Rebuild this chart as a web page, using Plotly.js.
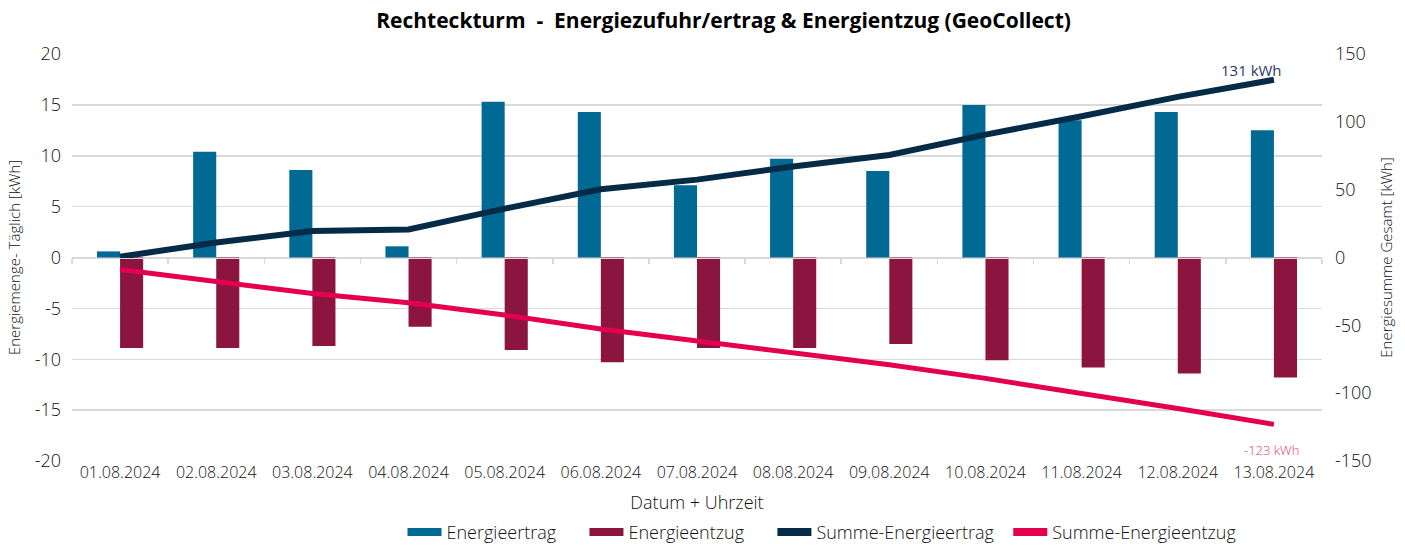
<!DOCTYPE html>
<html>
<head>
<meta charset="utf-8">
<script src="https://cdn.plot.ly/plotly-3.0.1.min.js"></script>
<style>html,body{margin:0;padding:0;background:#fff;}#chart{width:1405px;height:546px;}</style>
</head>
<body>
<div id="chart"></div>
<script>
var dates = ["01.08.2024","02.08.2024","03.08.2024","04.08.2024","05.08.2024","06.08.2024","07.08.2024","08.08.2024","09.08.2024","10.08.2024","11.08.2024","12.08.2024","13.08.2024"];
var energieertrag = [0.6, 10.4, 8.6, 1.1, 15.3, 14.3, 7.1, 9.7, 8.5, 15.0, 13.5, 14.3, 12.5];
var energieentzug = [-8.9, -8.9, -8.7, -6.8, -9.1, -10.3, -8.9, -8.9, -8.5, -10.1, -10.8, -11.4, -11.8];
var summeErtrag = [0.6, 11.0, 19.6, 20.7, 36.0, 50.3, 57.4, 67.1, 75.6, 90.6, 104.1, 118.4, 131];
var summeEntzug = [-8.9, -17.8, -26.5, -33.3, -42.4, -52.7, -61.6, -70.5, -79.0, -89.1, -99.9, -111.3, -123];
var leftTicks = [-20, -15, -10, -5, 0, 5, 10, 15, 20];
var rightTicks = [-150, -100, -50, 0, 50, 100, 150];
var labelErtrag = "131 kWh";
var labelEntzug = "-123 kWh";

var FONT = '"Open Sans", sans-serif';
var TXT = '#111111';
var C_ERTRAG = '#006994', C_ENTZUG = '#8c153f', C_SUM_E = '#062b47', C_SUM_Z = '#e4004f';
var NB = '\u00a0';
var idx = dates.map(function(d, i){ return i; });
var boundaries = dates.map(function(d, i){ return i - 0.5; }).concat([dates.length - 0.5]);

var traces = [
  {type:'bar', name:'Energieertrag', x:idx, y:energieertrag, marker:{color:C_ERTRAG}, xaxis:'x', yaxis:'y', showlegend:false, legendgroup:'a'},
  {type:'bar', name:'Energieentzug', x:idx, y:energieentzug, marker:{color:C_ENTZUG}, xaxis:'x', yaxis:'y', showlegend:false, legendgroup:'b'},
  {type:'scatter', mode:'lines', name:'Summe-Energieertrag', x:idx, y:summeErtrag, line:{color:C_SUM_E, width:6}, xaxis:'x', yaxis:'y2', showlegend:false, legendgroup:'c'},
  {type:'scatter', mode:'lines', name:'Summe-Energieentzug', x:idx, y:summeEntzug, line:{color:C_SUM_Z, width:5}, xaxis:'x', yaxis:'y2', showlegend:false, legendgroup:'d'},
  // legend entries (swatches only)
  {type:'scatter', mode:'lines', name:'Energieertrag' + NB.repeat(5), x:[null], y:[null], line:{color:C_ERTRAG, width:8}, legendgroup:'a', hoverinfo:'skip'},
  {type:'scatter', mode:'lines', name:'Energieentzug' + NB.repeat(5), x:[null], y:[null], line:{color:C_ENTZUG, width:8}, legendgroup:'b', hoverinfo:'skip'},
  {type:'scatter', mode:'lines', name:'Summe-Energieertrag' + NB.repeat(2), x:[null], y:[null], line:{color:C_SUM_E, width:8}, legendgroup:'c', hoverinfo:'skip'},
  {type:'scatter', mode:'lines', name:'Summe-Energieentzug', x:[null], y:[null], line:{color:C_SUM_Z, width:8}, legendgroup:'d', hoverinfo:'skip'},
  {type:'scatter', mode:'markers', x:[0], y:[0], xaxis:'x2', yaxis:'y', marker:{opacity:0}, showlegend:false, hoverinfo:'skip'}
];

var last = dates.length - 1;
var layout = {
  width:1405, height:546,
  margin:{l:72, r:83, t:54, b:85, autoexpand:false},
  paper_bgcolor:'#ffffff', plot_bgcolor:'#ffffff',
  font:{family:FONT, size:16, color:TXT, weight:300},
  title:{text:'Rechteckturm  -  Energiezufuhr/ertrag & Energientzug (GeoCollect)', font:{family:FONT, size:21, color:'#000000', weight:700}, x:0.515, xanchor:'center', y:0.962, yanchor:'middle'},
  barmode:'group', bargap:0.52, bargroupgap:0,
  showlegend:true,
  legend:{orientation:'h', x:0.6, xanchor:'center', yref:'container', y:0.025, yanchor:'middle', font:{family:FONT, size:18, color:TXT, weight:300}, traceorder:'normal', itemwidth:34},
  xaxis:{
    type:'linear', range:[-0.5, dates.length - 0.5], tickmode:'array', tickvals:idx, ticktext:dates, automargin:false,
    showgrid:false, zeroline:false, showline:false, ticks:'', tickfont:{family:FONT, size:16, color:TXT, weight:300},
    title:{text:'Datum + Uhrzeit', font:{family:FONT, size:18, color:TXT, weight:300}, standoff:15}
  },
  xaxis2:{
    overlaying:'x', anchor:'free', position:0.5, type:'linear', range:[-0.5, dates.length - 0.5],
    tickmode:'array', tickvals:boundaries, ticks:'outside', ticklen:5, tickcolor:'#d9d9d9', tickwidth:1.5,
    showticklabels:false, showgrid:false, zeroline:false, showline:true, linecolor:'#d9d9d9', linewidth:1.5
  },
  yaxis:{
    range:[-20, 20], tickmode:'array', tickvals:leftTicks, ticktext:leftTicks.map(String), automargin:false,
    showgrid:true, gridcolor:'#d9d9d9', gridwidth:1.5, zeroline:false, ticklabelstandoff:10,
    showline:false, ticks:'', tickfont:{family:FONT, size:18, color:TXT, weight:300},
    title:{text:'Energiemenge- Täglich [kWh]', font:{family:FONT, size:15, color:TXT, weight:300}, standoff:10}
  },
  yaxis2:{
    overlaying:'y', side:'right', range:[-150, 150], tickmode:'array', tickvals:rightTicks, ticktext:rightTicks.map(String), automargin:false,
    showgrid:false, zeroline:false, ticklabelstandoff:12,
    showline:false, ticks:'', tickfont:{family:FONT, size:18, color:TXT, weight:300},
    title:{text:'Energiesumme Gesamt [kWh]', font:{family:FONT, size:15, color:TXT, weight:300}, standoff:10}
  },
  annotations:[
    {x:last, y:summeErtrag[last], xref:'x', yref:'y2', text:labelErtrag, showarrow:false, xshift:-22, yshift:10,
     font:{family:FONT, size:15, color:'#2b3a66', weight:500}},
    {x:last, y:summeEntzug[last], xref:'x', yref:'y2', text:labelEntzug, showarrow:false, xshift:-2, yshift:-26,
     font:{family:FONT, size:13, color:'#e8445c', weight:300}}
  ]
};

Plotly.newPlot('chart', traces, layout, {displayModeBar:false, staticPlot:true});
</script>
</body>
</html>
